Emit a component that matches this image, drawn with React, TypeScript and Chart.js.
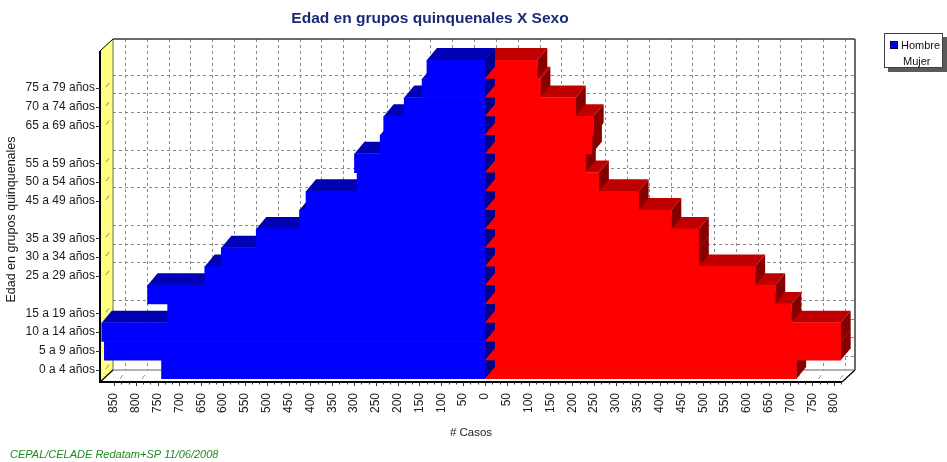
import React, { useEffect, useRef } from 'react';
import { Chart, registerables } from 'chart.js';

Chart.register(...registerables);

const categories = [
  '0 a 4 años', '5 a 9 años', '10 a 14 años', '15 a 19 años', '20 a 24 años',
  '25 a 29 años', '30 a 34 años', '35 a 39 años', '40 a 44 años', '45 a 49 años',
  '50 a 54 años', '55 a 59 años', '60 a 64 años', '65 a 69 años', '70 a 74 años',
  '75 a 79 años', '80 años y más',
];
const shownLabels = [
  '0 a 4 años', '5 a 9 años', '10 a 14 años', '15 a 19 años', '25 a 29 años',
  '30 a 34 años', '35 a 39 años', '45 a 49 años', '50 a 54 años', '55 a 59 años',
  '65 a 69 años', '70 a 74 años', '75 a 79 años',
];
const hombre = [741, 872, 878, 727, 773, 642, 604, 524, 425, 410, 293, 299, 240, 232, 185, 144, 133];
const mujer = [713, 815, 815, 702, 665, 619, 490, 490, 427, 352, 261, 231, 245, 249, 208, 127, 120];
const xTicks = [
  -850, -800, -750, -700, -650, -600, -550, -500, -450, -400, -350, -300, -250, -200, -150, -100, -50,
  0, 50, 100, 150, 200, 250, 300, 350, 400, 450, 500, 550, 600, 650, 700, 750, 800,
];
const xMin = -882;
const xMax = 818;
const seriesNames = ['Hombre', 'Mujer'];
const chartTitle = 'Edad en grupos quinquenales X Sexo';
const yTitle = 'Edad en grupos quinquenales';
const xTitle = '# Casos';
const footerText = 'CEPAL/CELADE Redatam+SP 11/06/2008';

const W = 947;
const H = 462;
const BDX = 10, BDY = 12; // bar depth
const WDX = 13, WDY = 12; // wall depth
const GDX = 11, GDY = 13.5; // grid offset on back wall
const FONT = "'Liberation Sans', Arial, sans-serif";

function poly(ctx: CanvasRenderingContext2D, pts: number[][], fill: string) {
  ctx.beginPath();
  ctx.moveTo(pts[0][0], pts[0][1]);
  for (let i = 1; i < pts.length; i++) ctx.lineTo(pts[i][0], pts[i][1]);
  ctx.closePath();
  ctx.fillStyle = fill;
  ctx.fill();
}
function line(ctx: CanvasRenderingContext2D, x1: number, y1: number, x2: number, y2: number) {
  ctx.beginPath();
  ctx.moveTo(x1, y1);
  ctx.lineTo(x2, y2);
  ctx.stroke();
}

function frame(chart: any) {
  const ca = chart.chartArea;
  const fl = ca.left, fr = ca.right, fb = ca.bottom + 3, ft = ca.top - 9;
  return { fl, fr, fb, ft, bl: fl + WDX, br: fr + WDX, bt: ft - WDY, bb: fb - WDY };
}

const scene3d = {
  id: 'scene3d',
  beforeDatasetsDraw(chart: any) {
    const ctx: CanvasRenderingContext2D = chart.ctx;
    const xs = chart.scales.x, ys = chart.scales.y;
    const f = frame(chart);
    ctx.save();
    // back wall
    ctx.fillStyle = '#ffffff';
    ctx.fillRect(f.bl, f.bt, f.br - f.bl, f.bb - f.bt);
    // grid
    ctx.setLineDash([3, 3]);
    ctx.strokeStyle = '#8a8a8a';
    ctx.lineWidth = 1;
    for (const v of xTicks) {
      const x = Math.round(xs.getPixelForValue(v) + GDX) + 0.5;
      line(ctx, x, f.bt, x, f.bb);
    }
    categories.forEach((c, i) => {
      if (shownLabels.includes(c)) {
        const y = Math.round(ys.getPixelForValue(i) - GDY) + 0.5;
        line(ctx, f.bl, y, f.br, y);
      }
    });
    ctx.setLineDash([]);
    // yellow side wall
    poly(ctx, [[f.fl, f.ft], [f.bl, f.bt], [f.bl, f.bb], [f.fl, f.fb]], '#FFFF80');
    // floor
    poly(ctx, [[f.fl, f.fb], [f.bl, f.bb], [f.br, f.bb], [f.fr, f.fb]], '#FFFFFF');
    // wall borders
    ctx.strokeStyle = '#3a3a3a';
    ctx.lineWidth = 1.5;
    line(ctx, f.bl, f.bt, f.br, f.bt);
    line(ctx, f.br, f.bt, f.br, f.bb);
    ctx.lineWidth = 1;
    ctx.strokeStyle = '#666666';
    line(ctx, f.bl, f.bt, f.bl, f.bb);
    line(ctx, f.bl, f.bb, f.br, f.bb);
    // floor marks
    ctx.strokeStyle = '#9a9a9a';
    for (const v of xTicks) {
      const x = xs.getPixelForValue(v);
      line(ctx, x + 6, f.fb - 3, x + 9, f.fb - 7);
    }
    // wall marks
    ctx.strokeStyle = '#8a8a60';
    categories.forEach((c, i) => {
      if (shownLabels.includes(c)) {
        const y = ys.getPixelForValue(i);
        line(ctx, f.fl + 6, y - 1, f.fl + 9, y - 5);
      }
    });
    // bar depth faces
    const drawDepth = (di: number, topColor: string, sideColor: string) => {
      const meta = chart.getDatasetMeta(di);
      const els = meta.data.slice().sort((a: any, b: any) => b.y - a.y);
      for (const el of els) {
        const p = el.getProps(['x', 'y', 'base', 'height'], true);
        const top = p.y - p.height / 2, bot = p.y + p.height / 2;
        const x0 = Math.min(p.x, p.base), x1 = Math.max(p.x, p.base);
        poly(ctx, [[x0, top], [x1, top], [x1 + BDX, top - BDY], [x0 + BDX, top - BDY]], topColor);
        poly(ctx, [[x1, top], [x1, bot], [x1 + BDX, bot - BDY], [x1 + BDX, top - BDY]], sideColor);
      }
    };
    drawDepth(1, '#C00000', '#860000');
    drawDepth(0, '#0000B4', '#00008C');
    ctx.restore();
  },
  afterDatasetsDraw(chart: any) {
    const ctx: CanvasRenderingContext2D = chart.ctx;
    const xs = chart.scales.x, ys = chart.scales.y;
    const f = frame(chart);
    const base = xs.getPixelForValue(0);
    ctx.save();
    const m0 = chart.getDatasetMeta(0);
    for (const el of m0.data) {
      const p = el.getProps(['y', 'height'], true);
      const top = p.y - p.height / 2, bot = p.y + p.height / 2;
      poly(ctx, [[base, top], [base, bot], [base + BDX, bot - BDY], [base + BDX, top - BDY]], '#00008C');
    }
    for (const el of m0.data) {
      const p = el.getProps(['y', 'height'], true);
      const bot = p.y + p.height / 2;
      poly(ctx, [[base, bot], [base + BDX, bot], [base + BDX, bot - BDY]], '#FF0000');
    }
    // left wall front edge
    ctx.strokeStyle = '#000000';
    ctx.lineWidth = 2;
    line(ctx, f.fl, f.ft, f.fl, f.fb);
    ctx.lineWidth = 1;
    line(ctx, f.fl, f.ft, f.bl, f.bt);
    // ruler
    ctx.lineWidth = 2;
    line(ctx, f.fl - 1, f.fb, f.fr, f.fb);
    ctx.lineWidth = 1.2;
    line(ctx, f.fr, f.fb, f.br, f.bb);
    line(ctx, f.fl, f.fb, f.bl, f.bb);
    ctx.lineWidth = 1;
    ctx.strokeStyle = '#333333';
    for (const v of xTicks) {
      const x = Math.round(xs.getPixelForValue(v)) + 0.5;
      line(ctx, x, f.fb, x, f.fb + 4);
      for (const k of [1, 2]) {
        const vv = v + (50 * k) / 3;
        if (vv < xMax) {
          const xm = Math.round(xs.getPixelForValue(vv)) + 0.5;
          line(ctx, xm, f.fb, xm, f.fb + 2.5);
        }
      }
    }
    // y tick dashes
    categories.forEach((c, i) => {
      if (shownLabels.includes(c)) {
        const y = Math.round(ys.getPixelForValue(i)) + 0.5;
        line(ctx, f.fl - 4, y, f.fl, y);
      }
    });
    ctx.restore();
  },
  afterDraw(chart: any) {
    const ctx: CanvasRenderingContext2D = chart.ctx;
    ctx.save();
    // title
    ctx.fillStyle = '#1B2A78';
    ctx.font = `bold 15.5px ${FONT}`;
    ctx.textAlign = 'center';
    ctx.textBaseline = 'middle';
    ctx.fillText(chartTitle, 430, 19);
    // legend
    ctx.fillStyle = '#5a5a5a';
    ctx.fillRect(888, 37, 59, 35);
    ctx.fillStyle = '#ffffff';
    ctx.fillRect(884, 33, 59, 35);
    ctx.strokeStyle = '#404040';
    ctx.lineWidth = 1;
    ctx.strokeRect(884.5, 33.5, 58, 34);
    ctx.fillStyle = '#0000FF';
    ctx.fillRect(890, 41, 8, 8);
    ctx.strokeStyle = '#000040';
    ctx.strokeRect(890.5, 41.5, 7, 7);
    ctx.fillStyle = '#111111';
    ctx.font = `11px ${FONT}`;
    ctx.textAlign = 'left';
    ctx.fillText(seriesNames[0], 901, 45.5);
    ctx.fillText(seriesNames[1], 903, 62);
    // footer
    ctx.fillStyle = '#1E8A1E';
    ctx.font = `italic 11px ${FONT}`;
    ctx.fillText(footerText, 10, 455);
    ctx.restore();
  },
};

export default function App() {
  const ref = useRef<HTMLCanvasElement>(null);
  useEffect(() => {
    if (!ref.current) return;
    Chart.defaults.font.family = FONT;
    const chart = new Chart(ref.current, {
      type: 'bar',
      data: {
        labels: categories,
        datasets: [
          {
            label: seriesNames[0],
            data: hombre.map((v) => -v),
            backgroundColor: '#0000FF',
            borderWidth: 0,
            barPercentage: 1,
            categoryPercentage: 1,
          },
          {
            label: seriesNames[1],
            data: mujer,
            backgroundColor: '#FF0000',
            borderWidth: 0,
            barPercentage: 1,
            categoryPercentage: 1,
          },
        ],
      },
      options: {
        indexAxis: 'y',
        responsive: false,
        animation: false,
        layout: { padding: { top: 60, right: 105, left: 0, bottom: 0 } },
        plugins: {
          legend: { display: false },
          title: { display: false },
          tooltip: { enabled: false },
        },
        scales: {
          x: {
            type: 'linear',
            stacked: true,
            min: xMin,
            max: xMax,
            grid: { display: false, drawTicks: false },
            border: { display: false },
            afterBuildTicks: (scale: any) => {
              scale.ticks = xTicks.map((v) => ({ value: v }));
            },
            afterFit: (scale: any) => {
              scale.height = 83;
            },
            ticks: {
              minRotation: 90,
              maxRotation: 90,
              autoSkip: false,
              padding: 14,
              color: '#1a1a1a',
              font: { size: 12 },
              callback: (v: any) => String(Math.abs(Number(v))),
            },
            title: {
              display: true,
              text: xTitle,
              color: '#1a1a1a',
              font: { size: 11.5 },
              padding: { top: 0, bottom: 22 },
            },
          },
          y: {
            type: 'category',
            stacked: true,
            reverse: true,
            grid: { display: false, drawTicks: false },
            border: { display: false },
            afterFit: (scale: any) => {
              scale.width = 100;
            },
            ticks: {
              autoSkip: false,
              padding: 5,
              color: '#1a1a1a',
              font: { size: 12 },
              callback: (_v: any, i: number) => (shownLabels.includes(categories[i]) ? categories[i] : ''),
            },
            title: {
              display: true,
              text: yTitle,
              color: '#1a1a1a',
              font: { size: 12.5 },
            },
          },
        },
      } as any,
      plugins: [scene3d],
    });
    return () => chart.destroy();
  }, []);
  return (
    <div style={{ position: 'absolute', left: 0, top: 0, width: W, height: H, background: '#ffffff' }}>
      <canvas ref={ref} width={W} height={H} style={{ display: 'block', width: W, height: H }} />
    </div>
  );
}
